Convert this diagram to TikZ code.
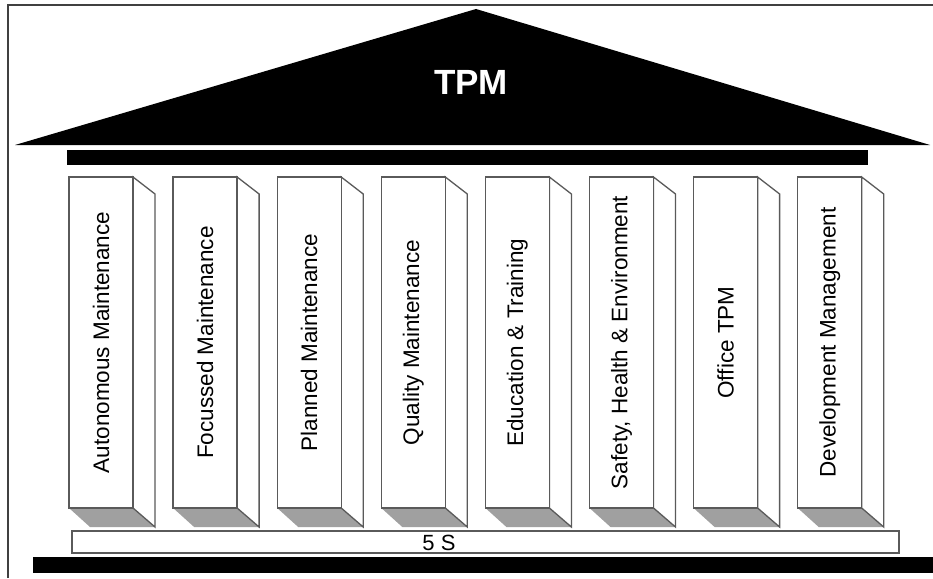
\documentclass[tikz,border=0pt]{standalone}
\usepackage{fontspec}
\setmainfont{Liberation Sans}
\definecolor{shadowgray}{RGB}{160,160,160}
\definecolor{edgegray}{RGB}{90,90,90}
\begin{document}
\begin{tikzpicture}[x=1pt,y=-1pt,
  edge/.style={draw=edgegray, line width=1.3pt, line join=miter},
  shade/.style={fill=shadowgray},
  ptext/.style={rotate=90, font=\fontsize{22.5}{24}\selectfont, inner sep=0pt}]
\useasboundingbox (0,0) rectangle (933,578);
% frame
\draw[black!75, line width=1.5pt] (8,578) -- (8,5) -- (933,5);
% roof
\fill (15,145) -- (476,9) -- (930,145) -- cycle;
\node[white, font=\bfseries\fontsize{35}{40}\selectfont, inner sep=0pt] (tpm) at (471,82) {TPM};
\fill (67,150) rectangle (868,165);
% pillars
\foreach \i/\t in {0/Autonomous Maintenance, 1/Focussed Maintenance, 2/Planned Maintenance, 3/Quality Maintenance, 4/Education \& Training, 5/{Safety, Health \& Environment}, 6/Office TPM, 7/Development Management}{
  \pgfmathsetmacro\xo{69+104.1*\i}
  \fill[shade] (\xo,508) -- (\xo+64,508) -- (\xo+86,527) -- (\xo+21,527) -- cycle;
  \draw[edge, fill=white] (\xo+64,177) -- (\xo+86,194) -- (\xo+86,527) -- (\xo+64,508) -- cycle;
  \draw[edge, fill=white] (\xo,177) rectangle (\xo+64,508);
  \node[ptext] (p\i) at (\xo+32,342.5) {\t};
}
% 5S
\draw[edge, fill=white] (72,531) rectangle (899,553);
\node[font=\fontsize{22}{24}\selectfont, inner sep=0pt] (fives) at (439,543) {5 S};
% base
\fill (33,557) rectangle (933,573);
\end{tikzpicture}
\end{document}
